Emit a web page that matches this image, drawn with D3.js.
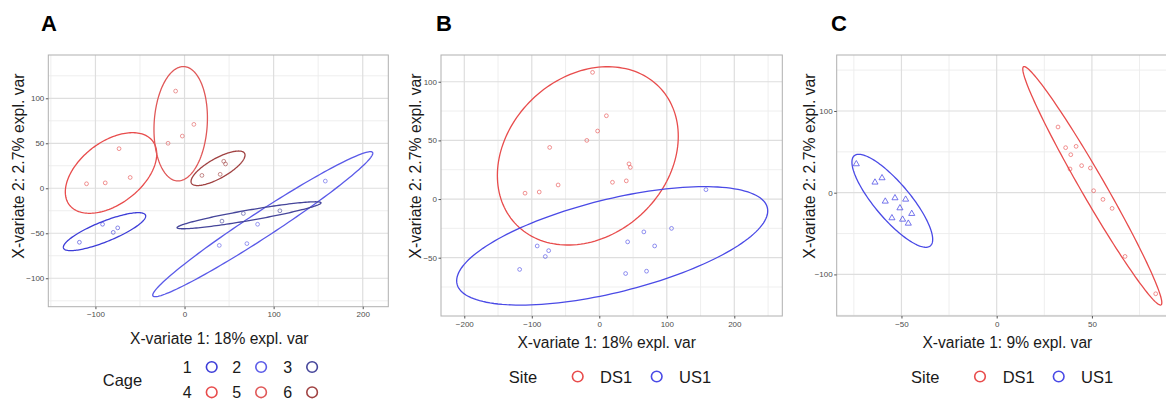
<!DOCTYPE html>
<html>
<head>
<meta charset="utf-8">
<script src="https://cdn.jsdelivr.net/npm/d3@7"></script>
<style>
  html, body { margin: 0; padding: 0; background: #fff; }
  svg { display: block; font-family: "Liberation Sans", Arial, Helvetica, sans-serif; }
</style>
</head>
<body>
<svg id="chart" width="1166" height="400"></svg>
<script>
// ---------------- DATA ----------------
const cageLevels = ["1", "2", "3", "4", "5", "6"];
const cageSite   = ["US1", "US1", "US1", "DS1", "DS1", "DS1"];
const cageColors = ["#3d3dd8", "#5a5ae8", "#45459a", "#e84c4c", "#e05858", "#a04242"];
const siteLevels = ["DS1", "US1"];
const siteColors = ["#e84c4c", "#4a4ae6"];

// Samples of panels A and B (same sPLS-DA scores, coloured by cage or site)
const abCage = [1, 1, 1, 1, 2, 2, 2, 2, 3, 3, 3, 4, 4, 4, 4, 5, 5, 5, 5, 6, 6, 6, 6];
const abX1   = [-118, -92, -80, -75, 158, 39, 70, 82, 42, 66, 107, -110, -89, -73.5, -61, -10, -18.5, -2.5, 10.5, 19.5, 40, 44, 46];
const abX2   = [-60, -40, -49, -44, 8, -63.5, -61.5, -40, -36.5, -28, -25, 5, 6, 44, 12, 108, 50, 58, 71, 14.3, 15.5, 30, 27];

// Panel A ellipses, one per cage: centre, half extents and correlation
const ellACx  = [-89.8, 87.8, 72.4, -82.5, -4.3, 37.6];
const ellACy  = [-48.2, -39.9, -30, 17, 71.7, 22.2];
const ellAHx  = [46.2, 123.5, 80.8, 51.3, 30, 30.3];
const ellAHy  = [21.1, 80.6, 15, 44.8, 63.5, 19.2];
const ellARho = [0.82, 0.978, 0.92, 0.47, 0.1, 0.76];

// Panel B ellipses, per site (DS1, US1)
const ellBCx  = [-17, 19.1];
const ellBCy  = [36.8, -39.9];
const ellBHx  = [134, 230.4];
const ellBHy  = [76, 50.5];
const ellBRho = [0.22, 0.59];

// Panel C samples
const cSite = ["US1","US1","US1","US1","US1","US1","US1","US1","US1","US1","US1",
               "DS1","DS1","DS1","DS1","DS1","DS1","DS1","DS1","DS1","DS1","DS1","DS1"];
const cX1 = [-73.7, -63.9, -60.2, -58.5, -53.4, -47.8, -50.8, -55, -49.4, -46.4, -44.6,
             32.2, 36.2, 41.7, 38.9, 38.5, 44.6, 49.2, 50.9, 55.8, 60.6, 67.4, 83.5];
const cX2 = [35.1, 12.7, 18, -10.6, -6.5, -8.2, -18.8, -31, -32.7, -37.6, -25.7,
             80.4, 55.1, 56.7, 46.5, 29, 33.1, 30.2, 2.4, -8.2, -19.2, -78, -123.7];

// Panel C ellipses, per site (DS1, US1)
const ellCCx  = [50.2, -54.8];
const ellCCy  = [8.4, -9.9];
const ellCHx  = [36.5, 21.2];
const ellCHy  = [145.9, 56.9];
const ellCRho = [-0.98, -0.83];

// Axis ticks and titles
const ticksAX = [-100, 0, 100, 200], ticksAY = [-100, -50, 0, 50, 100];
const ticksBX = [-200, -100, 0, 100, 200], ticksBY = [-50, 0, 50, 100];
const ticksCX = [-50, 0, 50], ticksCY = [-100, 0, 100];
const xTitleAB = "X-variate 1: 18% expl. var";
const xTitleC  = "X-variate 1: 9% expl. var";
const yTitle   = "X-variate 2: 2.7% expl. var";

// ---------------- DRAWING ----------------
const svg = d3.select("#chart");
const FONT_COL = "#1a1a1a";

function ellipsePoints(cx, cy, hx, hy, rho) {
  const pts = [];
  const s = Math.sqrt(1 - rho * rho);
  for (let i = 0; i < 160; i++) {
    const t = i / 160 * 2 * Math.PI;
    pts.push([cx + hx * Math.cos(t), cy + hy * (rho * Math.cos(t) + s * Math.sin(t))]);
  }
  return pts;
}

function panel(cfg) {
  const x = d3.scaleLinear().domain(cfg.xDomain).range([cfg.left, cfg.right]);
  const y = d3.scaleLinear().domain(cfg.yDomain).range([cfg.bottom, cfg.top]);
  const g = svg.append("g");
  const clipId = "clip" + cfg.letter;
  g.append("clipPath").attr("id", clipId).append("rect")
    .attr("x", cfg.left).attr("y", cfg.top)
    .attr("width", cfg.right - cfg.left).attr("height", cfg.bottom - cfg.top);

  const inner = g.append("g").attr("clip-path", `url(#${clipId})`);
  const inX = v => v >= cfg.xDomain[0] && v <= cfg.xDomain[1];
  const inY = v => v >= cfg.yDomain[0] && v <= cfg.yDomain[1];
  inner.selectAll(".mgx").data(cfg.minorX.filter(inX)).join("line")
    .attr("x1", d => x(d)).attr("x2", d => x(d)).attr("y1", cfg.top).attr("y2", cfg.bottom)
    .attr("stroke", "#ececec").attr("stroke-width", 0.9);
  inner.selectAll(".mgy").data(cfg.minorY.filter(inY)).join("line")
    .attr("y1", d => y(d)).attr("y2", d => y(d)).attr("x1", cfg.left).attr("x2", cfg.right)
    .attr("stroke", "#ececec").attr("stroke-width", 0.9);
  inner.selectAll(".gx").data(cfg.ticksX).join("line")
    .attr("x1", d => x(d)).attr("x2", d => x(d)).attr("y1", cfg.top).attr("y2", cfg.bottom)
    .attr("stroke", "#dedede").attr("stroke-width", 1.2);
  inner.selectAll(".gy").data(cfg.ticksY).join("line")
    .attr("y1", d => y(d)).attr("y2", d => y(d)).attr("x1", cfg.left).attr("x2", cfg.right)
    .attr("stroke", "#dedede").attr("stroke-width", 1.2);

  const line = d3.line().x(d => x(d[0])).y(d => y(d[1])).curve(d3.curveLinearClosed);
  cfg.ellipses.forEach(e => {
    inner.append("path").attr("d", line(ellipsePoints(e.cx, e.cy, e.hx, e.hy, e.rho)))
      .attr("fill", "none").attr("stroke", e.color).attr("stroke-width", 1.3);
  });

  cfg.points.forEach(p => {
    if (p.shape === "triangle") {
      inner.append("path")
        .attr("d", d3.symbol(d3.symbolTriangle, 16)())
        .attr("transform", `translate(${x(p.x)},${y(p.y)})`)
        .attr("fill", "none").attr("stroke", p.color).attr("stroke-width", 1).attr("stroke-opacity", 0.75);
    } else {
      inner.append("circle").attr("cx", x(p.x)).attr("cy", y(p.y)).attr("r", 1.9)
        .attr("fill", "none").attr("stroke", p.color).attr("stroke-width", 1).attr("stroke-opacity", 0.6);
    }
  });

  g.append("rect").attr("x", cfg.left).attr("y", cfg.top)
    .attr("width", cfg.right - cfg.left).attr("height", cfg.bottom - cfg.top)
    .attr("fill", "none").attr("stroke", "#b0b0b0").attr("stroke-width", 1);

  const ax = g.append("g").attr("transform", `translate(0,${cfg.bottom})`)
    .call(d3.axisBottom(x).tickValues(cfg.ticksX).tickSize(2.5).tickPadding(2.5).tickFormat(d3.format("d")));
  const ay = g.append("g").attr("transform", `translate(${cfg.left},0)`)
    .call(d3.axisLeft(y).tickValues(cfg.ticksY).tickSize(2.5).tickPadding(1.5).tickFormat(d3.format("d")));
  [ax, ay].forEach(a => {
    a.select(".domain").remove();
    a.selectAll(".tick line").attr("stroke", "#555");
    a.selectAll(".tick text").attr("fill", "#4d4d4d").style("font-size", "8px")
      .style("font-family", '"Liberation Sans", Arial, sans-serif');
  });

  g.append("text").attr("x", (cfg.left + cfg.right) / 2 + cfg.xTitleDx).attr("y", cfg.xTitleY)
    .attr("text-anchor", "middle").attr("fill", FONT_COL).style("font-size", "15.6px").text(cfg.xTitle);
  g.append("text").attr("transform", `translate(${cfg.yTitleX},${cfg.yTitleCY}) rotate(-90)`)
    .attr("text-anchor", "middle").attr("dominant-baseline", "central")
    .attr("fill", FONT_COL).style("font-size", "15.8px").text(yTitle);
  g.append("text").attr("x", cfg.letterX).attr("y", 31).attr("fill", "#000")
    .style("font-size", "22px").style("font-weight", "bold").text(cfg.letter);
  return g;
}

// Panel A
const pointsA = abCage.map((c, i) => ({ x: abX1[i], y: abX2[i], color: cageColors[c - 1] }));
const ellA = cageLevels.map((c, i) => ({ cx: ellACx[i], cy: ellACy[i], hx: ellAHx[i], hy: ellAHy[i], rho: ellARho[i], color: cageColors[i] }));
panel({
  letter: "A", letterX: 41,
  left: 48.3, right: 388.3, top: 55, bottom: 306.7,
  xDomain: [-152.9, 228.7], yDomain: [-131.6, 148.1],
  ticksX: ticksAX, ticksY: ticksAY, minorX: [-150, -50, 50, 150], minorY: [-125, -75, -25, 25, 75, 125],
  ellipses: ellA, points: pointsA,
  xTitle: xTitleAB, xTitleY: 344, xTitleDx: 1, yTitleX: 18.5, yTitleCY: 166
});

// Panel B
const pointsB = abCage.map((c, i) => {
  const s = cageSite[c - 1];
  return { x: abX1[i], y: abX2[i], color: siteColors[siteLevels.indexOf(s)] };
});
const ellB = siteLevels.map((s, i) => ({ cx: ellBCx[i], cy: ellBCy[i], hx: ellBHx[i], hy: ellBHy[i], rho: ellBRho[i], color: siteColors[i] }));
panel({
  letter: "B", letterX: 436,
  left: 441, right: 782.3, top: 55, bottom: 316,
  xDomain: [-234.5, 271.1], yDomain: [-99.7, 122.8],
  ticksX: ticksBX, ticksY: ticksBY, minorX: [-250, -150, -50, 50, 150, 250], minorY: [-75, -25, 25, 75, 125],
  ellipses: ellB, points: pointsB,
  xTitle: xTitleAB, xTitleY: 348, xTitleDx: -5, yTitleX: 415, yTitleCY: 166
});

// Panel C
const pointsC = cSite.map((s, i) => ({
  x: cX1[i], y: cX2[i], color: siteColors[siteLevels.indexOf(s)], shape: s === "US1" ? "triangle" : "circle"
}));
const ellC = siteLevels.map((s, i) => ({ cx: ellCCx[i], cy: ellCCy[i], hx: ellCHx[i], hy: ellCHy[i], rho: ellCRho[i], color: siteColors[i] }));
panel({
  letter: "C", letterX: 831,
  left: 836.7, right: 1178, top: 55, bottom: 316,
  xDomain: [-84.0, 95.2], yDomain: [-150.9, 168.5],
  ticksX: ticksCX, ticksY: ticksCY, minorX: [-75, -25, 25, 75], minorY: [-150, -50, 50, 150],
  ellipses: ellC, points: pointsC,
  xTitle: xTitleC, xTitleY: 348, xTitleDx: 0, yTitleX: 809, yTitleCY: 166
});

// ---------------- LEGENDS ----------------
const legFont = "16px";
const legA = svg.append("g");
legA.append("text").attr("x", 122.5).attr("y", 380).attr("text-anchor", "middle")
  .attr("dominant-baseline", "central").attr("fill", FONT_COL).style("font-size", "16.5px").text("Cage");
const legAColX = [187.3, 236.7, 287.7];
const legARowY = [367, 392.3];
cageLevels.forEach((c, i) => {
  const col = i % 3, row = Math.floor(i / 3);
  legA.append("text").attr("x", legAColX[col]).attr("y", legARowY[row])
    .attr("text-anchor", "middle").attr("dominant-baseline", "central")
    .attr("fill", FONT_COL).style("font-size", legFont).text(c);
  legA.append("circle").attr("cx", legAColX[col] + 24.4).attr("cy", legARowY[row]).attr("r", 5.3)
    .attr("fill", "none").attr("stroke", cageColors[i]).attr("stroke-width", 1.6);
});

function siteLegend(titleX, circleXs, labelXs, yc) {
  const gl = svg.append("g");
  gl.append("text").attr("x", titleX).attr("y", yc).attr("text-anchor", "middle")
    .attr("dominant-baseline", "central").attr("fill", FONT_COL).style("font-size", "16.5px").text("Site");
  siteLevels.forEach((s, i) => {
    gl.append("circle").attr("cx", circleXs[i]).attr("cy", yc).attr("r", 5.3)
      .attr("fill", "none").attr("stroke", siteColors[i]).attr("stroke-width", 1.6);
    gl.append("text").attr("x", labelXs[i]).attr("y", yc).attr("dominant-baseline", "central")
      .attr("fill", FONT_COL).style("font-size", "16.5px").text(s);
  });
}
siteLegend(523, [577.7, 656.7], [600, 679], 376.5);
siteLegend(925.3, [980, 1058.7], [1002.7, 1081], 376.5);
</script>
</body>
</html>
